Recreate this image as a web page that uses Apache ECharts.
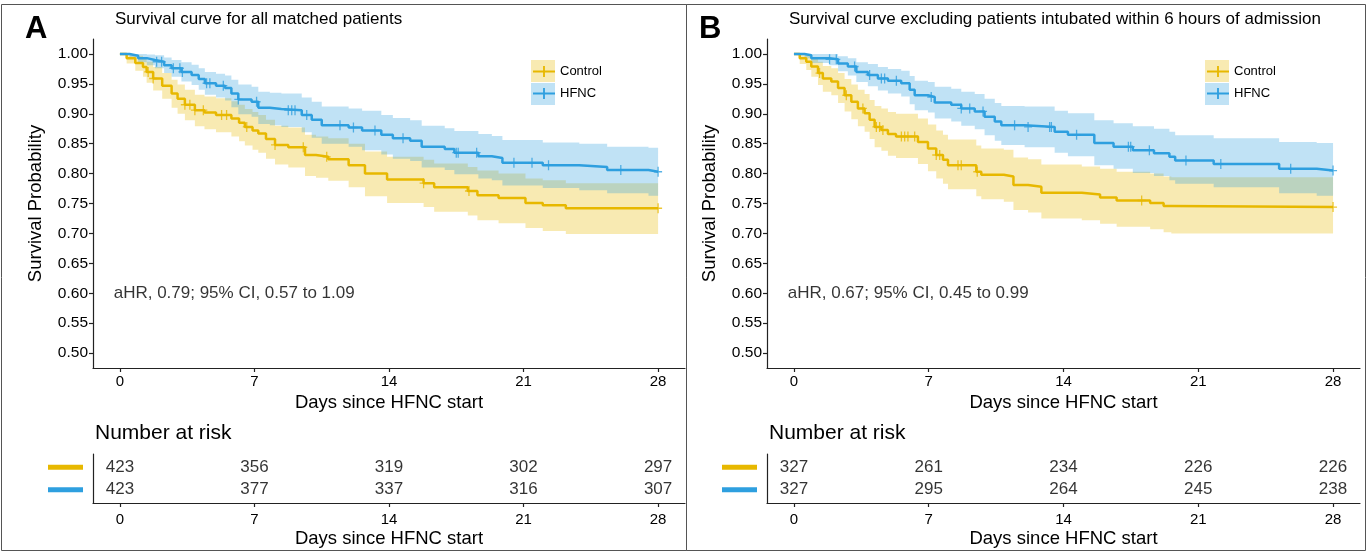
<!DOCTYPE html>
<html>
<head>
<meta charset="utf-8">
<script src="https://cdn.jsdelivr.net/npm/echarts@6/dist/echarts.min.js"></script>
<style>
  html, body { margin: 0; padding: 0; background: #fff; }
  #chart { width: 1367px; height: 551px; }
</style>
</head>
<body>
<div id="chart"></div>
<script>
// tick labels
const dayTicks = [0, 7, 14, 21, 28];
const survTicks = [0.5, 0.55, 0.6, 0.65, 0.7, 0.75, 0.8, 0.85, 0.9, 0.95, 1.0];

// panel A - control
const tA_ctrl = [0, 0.35, 0.8, 1.2, 1.39, 1.73, 2.2, 2.69, 3.0, 3.38, 3.9, 4.4, 5.0, 5.8, 6.2, 6.5, 6.9, 7.2, 7.6, 8.07, 8.76, 9.63, 10.2, 10.84, 11.9, 12.75, 13.9, 15.8, 16.35, 18.1, 18.6, 19.7, 21.1, 22.0, 23.2, 28];
const sA_ctrl = [1, 0.993, 0.985, 0.978, 0.970, 0.959, 0.947, 0.934, 0.925, 0.915, 0.906, 0.902, 0.898, 0.892, 0.885, 0.878, 0.872, 0.867, 0.858, 0.848, 0.844, 0.831, 0.828, 0.824, 0.814, 0.800, 0.790, 0.784, 0.777, 0.771, 0.764, 0.759, 0.751, 0.747, 0.742, 0.742];
const hiA_ctrl = [1, 1, 0.997, 0.993, 0.987, 0.978, 0.968, 0.957, 0.949, 0.940, 0.932, 0.929, 0.926, 0.921, 0.915, 0.908, 0.903, 0.898, 0.890, 0.880, 0.877, 0.865, 0.862, 0.859, 0.850, 0.837, 0.828, 0.823, 0.817, 0.811, 0.805, 0.800, 0.792, 0.789, 0.784, 0.784];
const loA_ctrl = [1, 0.984, 0.972, 0.962, 0.952, 0.939, 0.925, 0.910, 0.900, 0.889, 0.879, 0.874, 0.869, 0.862, 0.854, 0.847, 0.840, 0.835, 0.825, 0.815, 0.810, 0.796, 0.793, 0.788, 0.777, 0.762, 0.751, 0.744, 0.736, 0.730, 0.722, 0.717, 0.709, 0.704, 0.699, 0.699];
const cA_ctrl = [1.47, 1.73, 3.38, 3.64, 3.9, 4.34, 5.29, 5.55, 6.6, 8.07, 9.54, 10.76, 15.8, 18.16, 28];

// panel A - HFNC
const tA_hfnc = [0, 0.5, 0.95, 1.4, 1.82, 2.3, 2.69, 3.2, 3.73, 4.1, 4.42, 5.0, 5.47, 5.8, 6.16, 6.85, 7.2, 7.8, 8.4, 9.46, 9.98, 10.5, 11.9, 12.6, 13.6, 14.2, 15.1, 15.7, 16.9, 17.4, 18.65, 19.35, 19.9, 22.0, 23.9, 25.35, 27.5, 28];
const sA_hfnc = [1, 0.997, 0.993, 0.990, 0.987, 0.981, 0.976, 0.970, 0.965, 0.958, 0.951, 0.947, 0.943, 0.934, 0.924, 0.920, 0.910, 0.908, 0.906, 0.898, 0.890, 0.881, 0.877, 0.872, 0.865, 0.859, 0.855, 0.845, 0.841, 0.835, 0.829, 0.826, 0.818, 0.814, 0.811, 0.806, 0.803, 0.803];
const hiA_hfnc = [1, 1, 1, 0.999, 0.998, 0.994, 0.990, 0.986, 0.982, 0.976, 0.970, 0.967, 0.964, 0.957, 0.949, 0.945, 0.937, 0.935, 0.934, 0.927, 0.920, 0.912, 0.909, 0.905, 0.898, 0.893, 0.889, 0.880, 0.876, 0.871, 0.866, 0.863, 0.856, 0.852, 0.850, 0.845, 0.843, 0.843];
const loA_hfnc = [1, 0.993, 0.986, 0.981, 0.976, 0.968, 0.962, 0.954, 0.948, 0.940, 0.932, 0.927, 0.922, 0.911, 0.899, 0.895, 0.883, 0.881, 0.878, 0.869, 0.860, 0.850, 0.845, 0.839, 0.832, 0.825, 0.821, 0.810, 0.806, 0.799, 0.792, 0.789, 0.780, 0.776, 0.772, 0.767, 0.763, 0.763];
const cA_hfnc = [1.91, 2.17, 2.78, 3.12, 3.25, 4.51, 4.68, 5.38, 6.16, 7.11, 8.76, 8.94, 9.11, 9.72, 11.45, 12.15, 13.27, 14.73, 17.5, 17.6, 18.56, 20.5, 21.44, 22.3, 26.06, 28];

// panel B - control
const tB_ctrl = [0, 0.3, 0.64, 0.9, 1.25, 1.5, 1.94, 2.29, 2.63, 2.98, 3.32, 3.67, 3.93, 4.19, 4.54, 4.88, 5.3, 6.44, 6.96, 7.39, 7.74, 8.0, 9.47, 9.73, 10.9, 11.4, 12.16, 12.85, 14.95, 15.9, 16.76, 18.5, 19.2, 19.6, 28];
const sB_ctrl = [1, 0.993, 0.987, 0.979, 0.968, 0.959, 0.954, 0.943, 0.931, 0.920, 0.909, 0.901, 0.890, 0.878, 0.873, 0.866, 0.862, 0.853, 0.842, 0.831, 0.823, 0.814, 0.803, 0.798, 0.795, 0.781, 0.778, 0.768, 0.765, 0.760, 0.755, 0.751, 0.746, 0.744, 0.744];
const hiB_ctrl = [1, 1, 1, 0.995, 0.987, 0.980, 0.976, 0.968, 0.958, 0.949, 0.940, 0.933, 0.923, 0.913, 0.909, 0.903, 0.900, 0.892, 0.882, 0.872, 0.865, 0.857, 0.847, 0.842, 0.840, 0.827, 0.824, 0.815, 0.812, 0.808, 0.803, 0.800, 0.795, 0.794, 0.794];
const loB_ctrl = [1, 0.983, 0.973, 0.962, 0.948, 0.937, 0.931, 0.918, 0.904, 0.891, 0.879, 0.870, 0.858, 0.844, 0.838, 0.830, 0.826, 0.816, 0.804, 0.792, 0.783, 0.774, 0.762, 0.757, 0.753, 0.739, 0.735, 0.725, 0.722, 0.716, 0.711, 0.707, 0.702, 0.700, 0.700];
const cB_ctrl = [1.33, 2.72, 3.58, 4.28, 4.45, 4.62, 5.58, 5.75, 5.92, 6.27, 7.39, 7.57, 8.52, 8.69, 9.52, 18.06, 28];

// panel B - HFNC
const tB_hfnc = [0, 0.55, 0.9, 1.85, 2.29, 2.8, 3.24, 3.84, 4.36, 4.88, 5.57, 6.01, 6.27, 6.96, 7.31, 8.17, 8.69, 9.39, 9.9, 10.43, 10.77, 11.98, 13.54, 14.23, 15.6, 16.6, 17.6, 18.7, 19.5, 19.8, 21.8, 25.2, 27.15, 28];
const sB_hfnc = [1, 0.998, 0.993, 0.991, 0.984, 0.979, 0.970, 0.965, 0.959, 0.955, 0.951, 0.940, 0.931, 0.928, 0.919, 0.915, 0.909, 0.904, 0.895, 0.887, 0.881, 0.878, 0.870, 0.865, 0.851, 0.845, 0.839, 0.834, 0.828, 0.822, 0.816, 0.808, 0.805, 0.805];
const hiB_hfnc = [1, 1, 1, 1, 0.996, 0.993, 0.986, 0.983, 0.978, 0.975, 0.972, 0.963, 0.955, 0.953, 0.945, 0.942, 0.937, 0.933, 0.925, 0.918, 0.913, 0.912, 0.905, 0.901, 0.889, 0.884, 0.879, 0.875, 0.870, 0.864, 0.859, 0.853, 0.851, 0.851];
const loB_hfnc = [1, 0.993, 0.985, 0.981, 0.971, 0.964, 0.953, 0.946, 0.939, 0.934, 0.929, 0.916, 0.906, 0.902, 0.892, 0.887, 0.880, 0.874, 0.864, 0.855, 0.848, 0.844, 0.835, 0.829, 0.814, 0.808, 0.801, 0.796, 0.789, 0.783, 0.777, 0.767, 0.763, 0.763];
const cB_hfnc = [1.85, 2.2, 3.15, 3.93, 4.54, 4.71, 5.32, 7.13, 8.69, 9.13, 9.82, 11.46, 12.16, 13.28, 13.37, 14.68, 17.37, 17.49, 18.46, 20.36, 22.17, 25.8, 28];

// number at risk
const riskA_ctrl = [423, 356, 319, 302, 297];
const riskA_hfnc = [423, 377, 337, 316, 307];
const riskB_ctrl = [327, 261, 234, 226, 226];
const riskB_hfnc = [327, 295, 264, 245, 238];

const CTRL = '#E7B800';
const HFNC = '#2E9FDF';
const FONT = 'Liberation Sans, Arial, sans-serif';
const TXT = '#000';
const plusIcon = 'path://M0,5 L10,5 L10,6.6 L0,6.6 Z M4.2,0 L5.8,0 L5.8,11.6 L4.2,11.6 Z';
const legendIcon = 'path://M0,6 L24,6 L24,8 L0,8 Z M11,1 L13,1 L13,13 L11,13 Z';

const chart = echarts.init(document.getElementById('chart'));

// value of the step curve at time t
function survAt(times, surv, t) {
  let v = surv[0];
  for (let i = 0; i < times.length; i++) {
    if (times[i] <= t) v = surv[i];
  }
  return v;
}

// confidence band as one step polygon
function bandSeries(idx, times, lo, hi, fill) {
  return {
    type: 'custom',
    xAxisIndex: idx, yAxisIndex: idx,
    silent: true, z: 1,
    data: times.map((t, i) => [t, lo[i], hi[i]]),
    encode: { x: 0, y: [1, 2] },
    renderItem: (params, api) => {
      if (params.dataIndex !== 0) return null;
      const up = [], dn = [];
      for (let i = 0; i < times.length; i++) {
        const tn = i + 1 < times.length ? times[i + 1] : times[i];
        up.push(api.coord([times[i], hi[i]]), api.coord([tn, hi[i]]));
        dn.push(api.coord([times[i], lo[i]]), api.coord([tn, lo[i]]));
      }
      return { type: 'polygon', shape: { points: up.concat(dn.reverse()) }, style: { fill: fill } };
    }
  };
}

function lineSeries(idx, name, times, surv, color) {
  return {
    type: 'line', name: name, step: 'end',
    xAxisIndex: idx, yAxisIndex: idx,
    showSymbol: false, z: 3,
    lineStyle: { color: color, width: 2.5 },
    itemStyle: { color: color },
    data: times.map((t, i) => [t, surv[i]])
  };
}

function censorSeries(idx, times, surv, cens, color) {
  return {
    type: 'scatter', xAxisIndex: idx, yAxisIndex: idx, z: 4,
    symbol: plusIcon, symbolSize: [8, 10],
    itemStyle: { color: color },
    data: cens.map(t => [t, survAt(times, surv, t)])
  };
}

function riskSeries(idx, row, counts) {
  return {
    type: 'scatter', xAxisIndex: idx, yAxisIndex: idx,
    symbolSize: 1, itemStyle: { color: 'rgba(0,0,0,0)' },
    label: { show: true, position: 'inside', formatter: p => p.value[2], fontSize: 17, color: TXT, fontFamily: FONT },
    data: dayTicks.map((t, i) => [t, row, counts[i]])
  };
}

function noteSeries(idx, text) {
  return {
    type: 'scatter', xAxisIndex: idx, yAxisIndex: idx,
    symbolSize: 1, itemStyle: { color: 'rgba(0,0,0,0)' },
    label: { show: true, position: 'right', distance: 0, formatter: text, fontSize: 17, color: TXT, fontFamily: FONT },
    data: [[-0.35, 0.6]]
  };
}

const axisLine = { show: true, onZero: false, lineStyle: { color: '#222', width: 1.2 } };
const axisTick = { show: true, length: 4, lineStyle: { color: '#222', width: 1.2 } };

function dayAxis(gridIndex, margin, gap) {
  return {
    type: 'value', gridIndex: gridIndex, min: -1.4, max: 29.4,
    axisLine: axisLine,
    axisTick: Object.assign({ customValues: dayTicks }, axisTick),
    axisLabel: { customValues: dayTicks, fontSize: 15, color: TXT, fontFamily: FONT, margin: margin },
    splitLine: { show: false },
    name: 'Days since HFNC start', nameLocation: 'middle', nameGap: gap,
    nameTextStyle: { fontSize: 18.5, color: TXT, fontFamily: FONT }
  };
}

function survAxis(gridIndex) {
  return {
    type: 'value', gridIndex: gridIndex, min: 0.475, max: 1.025,
    axisLine: axisLine,
    axisTick: Object.assign({ customValues: survTicks }, axisTick),
    axisLabel: { customValues: survTicks, formatter: v => v.toFixed(2), fontSize: 15.5, color: TXT, fontFamily: FONT, margin: 5 },
    splitLine: { show: false },
    name: 'Survival Probability', nameLocation: 'middle', nameGap: 48,
    nameTextStyle: { fontSize: 18.5, color: TXT, fontFamily: FONT }
  };
}

function riskAxis(gridIndex) {
  return {
    type: 'value', gridIndex: gridIndex, min: 0.4, max: 2.6,
    axisLine: axisLine,
    axisTick: { show: false },
    axisLabel: {
      customValues: [1, 2], margin: 10,
      formatter: v => (v === 2 ? '{c| }' : '{h| }'),
      rich: {
        c: { backgroundColor: CTRL, width: 35, height: 5, fontSize: 1 },
        h: { backgroundColor: HFNC, width: 35, height: 5, fontSize: 1 }
      }
    },
    splitLine: { show: false }
  };
}

function legendFor(left) {
  return {
    left: left, top: 65, padding: 0, orient: 'vertical', itemGap: 9, itemWidth: 22, itemHeight: 14,
    selectedMode: false,
    data: [{ name: 'Control', icon: legendIcon }, { name: 'HFNC', icon: legendIcon }],
    textStyle: { fontSize: 13, color: TXT, fontFamily: FONT }
  };
}

function heading(text, left, top, size, weight) {
  return { text: text, left: left, top: top, padding: 0, textStyle: { fontSize: size, fontWeight: weight, color: TXT, fontFamily: FONT } };
}

const option = {
  animation: false,
  backgroundColor: '#fff',
  textStyle: { fontFamily: FONT },
  title: [
    heading('A', 25, 14, 31, 'bold'),
    heading('Survival curve for all matched patients', 115, 11, 17, 'normal'),
    heading('Number at risk', 95, 423, 21, 'normal'),
    heading('B', 699, 14, 31, 'bold'),
    heading('Survival curve excluding patients intubated within 6 hours of admission', 789, 11, 17, 'normal'),
    heading('Number at risk', 769, 423, 21, 'normal')
  ],
  legend: [legendFor(533), legendFor(1207)],
  graphic: [
    { type: 'rect', shape: { x: 1.5, y: 4.5, width: 685, height: 546 }, style: { fill: 'none', stroke: '#555', lineWidth: 1 }, z: 0 },
    { type: 'rect', shape: { x: 686.5, y: 4.5, width: 679, height: 546 }, style: { fill: 'none', stroke: '#555', lineWidth: 1 }, z: 0 },
    { type: 'rect', shape: { x: 531, y: 60, width: 24, height: 22 }, style: { fill: 'rgba(231,184,0,0.3)' }, z: 0 },
    { type: 'rect', shape: { x: 531, y: 83, width: 24, height: 22 }, style: { fill: 'rgba(46,159,223,0.3)' }, z: 0 },
    { type: 'rect', shape: { x: 1205, y: 60, width: 24, height: 22 }, style: { fill: 'rgba(231,184,0,0.3)' }, z: 0 },
    { type: 'rect', shape: { x: 1205, y: 83, width: 24, height: 22 }, style: { fill: 'rgba(46,159,223,0.3)' }, z: 0 }
  ],
  grid: [
    { left: 93, top: 39, width: 592, height: 329 },
    { left: 93, top: 454, width: 592, height: 49 },
    { left: 767, top: 39, width: 593, height: 329 },
    { left: 767, top: 454, width: 593, height: 49 }
  ],
  xAxis: [dayAxis(0, 6, 23), dayAxis(1, 9, 26), dayAxis(2, 6, 23), dayAxis(3, 9, 26)],
  yAxis: [survAxis(0), riskAxis(1), survAxis(2), riskAxis(3)],
  series: [
    bandSeries(0, tA_ctrl, loA_ctrl, hiA_ctrl, 'rgba(231,184,0,0.3)'),
    bandSeries(0, tA_hfnc, loA_hfnc, hiA_hfnc, 'rgba(46,159,223,0.3)'),
    lineSeries(0, 'Control', tA_ctrl, sA_ctrl, CTRL),
    lineSeries(0, 'HFNC', tA_hfnc, sA_hfnc, HFNC),
    censorSeries(0, tA_ctrl, sA_ctrl, cA_ctrl, CTRL),
    censorSeries(0, tA_hfnc, sA_hfnc, cA_hfnc, HFNC),
    noteSeries(0, 'aHR, 0.79; 95% CI, 0.57 to 1.09'),
    riskSeries(1, 2, riskA_ctrl),
    riskSeries(1, 1, riskA_hfnc),

    bandSeries(2, tB_ctrl, loB_ctrl, hiB_ctrl, 'rgba(231,184,0,0.3)'),
    bandSeries(2, tB_hfnc, loB_hfnc, hiB_hfnc, 'rgba(46,159,223,0.3)'),
    lineSeries(2, 'Control', tB_ctrl, sB_ctrl, CTRL),
    lineSeries(2, 'HFNC', tB_hfnc, sB_hfnc, HFNC),
    censorSeries(2, tB_ctrl, sB_ctrl, cB_ctrl, CTRL),
    censorSeries(2, tB_hfnc, sB_hfnc, cB_hfnc, HFNC),
    noteSeries(2, 'aHR, 0.67; 95% CI, 0.45 to 0.99'),
    riskSeries(3, 2, riskB_ctrl),
    riskSeries(3, 1, riskB_hfnc)
  ]
};

chart.setOption(option);
</script>
</body>
</html>
